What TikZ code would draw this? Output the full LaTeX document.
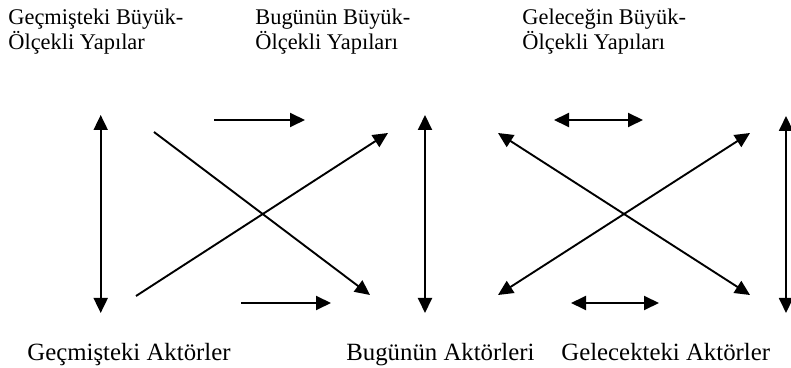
\documentclass[tikz,border=0pt]{standalone}
\usepackage{fontspec}
\setmainfont{Liberation Serif}
\usetikzlibrary{arrows.meta}
\begin{document}
\begin{tikzpicture}[x=0.5pt,y=-0.5pt,
  toplabel/.style={anchor=base west, inner sep=0pt, font=\fontsize{11.2pt}{12.5pt}\selectfont, align=left},
  botlabel/.style={anchor=base west, inner sep=0pt, font=\fontsize{12.4pt}{14pt}\selectfont},
  tip/.tip={Triangle[length=7.5pt,width=7pt]},
  link/.style={line width=0.95pt, -tip},
  dlink/.style={line width=0.95pt, tip-tip}]
\useasboundingbox (0,0) rectangle (791,368);
% labels (anchor is the baseline of the last line)
\node[toplabel] (pastS) at (8,50) {Geçmişteki Büyük-\\Ölçekli Yapılar};
\node[toplabel] (nowS) at (255,50) {Bugünün Büyük-\\Ölçekli Yapıları};
\node[toplabel] (futS) at (522,50) {Geleceğin Büyük-\\Ölçekli Yapıları};
\node[botlabel] (pastA) at (27,360) {Geçmişteki Aktörler};
\node[botlabel] (nowA) at (346,360) {Bugünün Aktörleri};
\node[botlabel] (futA) at (561,360) {Gelecekteki Aktörler};
% coordinates
\coordinate (v1t) at (100.7,115); \coordinate (v1b) at (100.7,313);
\coordinate (v2t) at (425,115);   \coordinate (v2b) at (425,313);
\coordinate (v3t) at (786,116);   \coordinate (v3b) at (786,313);
\coordinate (h1a) at (214,120);   \coordinate (h1b) at (305,120);
\coordinate (h2a) at (241,303);   \coordinate (h2b) at (331,303);
\coordinate (d1a) at (154,132);   \coordinate (d1b) at (370,295);
\coordinate (d2a) at (136,296);   \coordinate (d2b) at (388,133);
\coordinate (h3a) at (554,120);   \coordinate (h3b) at (643,120);
\coordinate (h4a) at (571,303);   \coordinate (h4b) at (659,303);
\coordinate (e1a) at (498,133);   \coordinate (e1b) at (750,295);
\coordinate (e2a) at (498,295);   \coordinate (e2b) at (750,133);
% arrows
\draw[dlink] (v1t) -- (v1b);
\draw[dlink] (v2t) -- (v2b);
\draw[dlink] (v3t) -- (v3b);
\draw[link] (h1a) -- (h1b);
\draw[link] (h2a) -- (h2b);
\draw[link] (d1a) -- (d1b);
\draw[link] (d2a) -- (d2b);
\draw[dlink] (h3a) -- (h3b);
\draw[dlink] (h4a) -- (h4b);
\draw[dlink] (e1a) -- (e1b);
\draw[dlink] (e2a) -- (e2b);
\end{tikzpicture}
\end{document}
